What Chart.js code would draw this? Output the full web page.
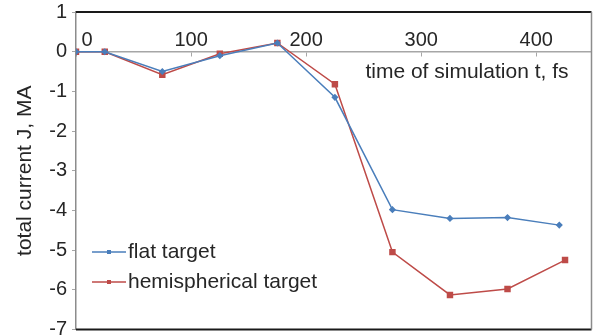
<!DOCTYPE html>
<html>
<head>
<meta charset="utf-8">
<script src="https://cdn.jsdelivr.net/npm/chart.js@4"></script>
<style>
  html, body { margin: 0; padding: 0; background: #fff; }
  #wrap { width: 597px; height: 335px; }
</style>
</head>
<body>
<div id="wrap"><canvas id="chart"></canvas></div>
<script>
// values (time in fs, current in MA)
const timeFlat = [0, 25, 75, 125, 175, 225, 275, 325, 375, 420];
const currentFlat = [0, 0, -0.5, -0.1, 0.22, -1.15, -3.98, -4.2, -4.18, -4.37];
const timeHemi = [0, 25, 75, 125, 175, 225, 275, 325, 375, 425];
const currentHemi = [0, 0, -0.58, -0.05, 0.22, -0.82, -5.05, -6.13, -5.98, -5.25];
const seriesNames = ["flat target", "hemispherical target"];
const xTicks = [0, 100, 200, 300, 400];
const yTicks = [-7, -6, -5, -4, -3, -2, -1, 0, 1];

const BLUE = "#4a7ebb";
const RED = "#be4b48";
const TEXT = "#262626";
const FONT = "'Liberation Sans', Arial, sans-serif";

const toPoints = (xs, ys) => xs.map((x, i) => ({ x, y: ys[i] }));

// plot frame, in-plot legend and x axis title
const extrasPlugin = {
  id: "extras",
  afterDraw(chart) {
    const { ctx, chartArea: a } = chart;
    const yZero = chart.scales.y.getPixelForValue(0);
    ctx.save();
    ctx.strokeStyle = "#1a1a1a";
    ctx.lineWidth = 2;
    ctx.beginPath();
    ctx.moveTo(a.left, a.top);
    ctx.lineTo(a.right, a.top);
    ctx.moveTo(a.left, a.bottom);
    ctx.lineTo(a.right, a.bottom);
    ctx.stroke();
    ctx.strokeStyle = "#8c8c8c";
    ctx.lineWidth = 1.5;
    ctx.beginPath();
    ctx.moveTo(a.right, a.top);
    ctx.lineTo(a.right, a.bottom);
    ctx.stroke();

    ctx.fillStyle = TEXT;
    ctx.font = "21px " + FONT;
    ctx.textAlign = "right";
    ctx.textBaseline = "middle";
    ctx.fillText("time of simulation t, fs", a.right - 23, yZero + 21);

    // legend
    ctx.textAlign = "left";
    chart.data.datasets.forEach((ds, i) => {
      const y = a.top + 240 + i * 30;
      const x0 = a.left + 16;
      const x1 = a.left + 50;
      ctx.strokeStyle = ds.borderColor;
      ctx.lineWidth = 1.5;
      ctx.beginPath();
      ctx.moveTo(x0, y);
      ctx.lineTo(x1, y);
      ctx.stroke();
      ctx.fillStyle = ds.borderColor;
      ctx.fillRect((x0 + x1) / 2 - 2, y - 2, 4, 4);
      ctx.fillStyle = TEXT;
      ctx.fillText(ds.label, x1 + 2, y);
    });
    ctx.restore();
  },
};

new Chart(document.getElementById("chart"), {
  type: "line",
  data: {
    datasets: [
      {
        label: seriesNames[0],
        data: toPoints(timeFlat, currentFlat),
        borderColor: BLUE,
        backgroundColor: BLUE,
        borderWidth: 1.5,
        pointStyle: "rectRot",
        pointRadius: 2.5,
      },
      {
        label: seriesNames[1],
        data: toPoints(timeHemi, currentHemi),
        borderColor: RED,
        backgroundColor: RED,
        borderWidth: 1.5,
        pointStyle: "rect",
        pointRadius: 3.5,
      },
    ],
  },
  options: {
    responsive: true,
    maintainAspectRatio: false,
    animation: false,
    layout: { padding: { left: 0, top: 12, right: 2, bottom: 5 } },
    plugins: {
      legend: { display: false },
      tooltip: { enabled: false },
    },
    elements: { line: { tension: 0 } },
    scales: {
      x: {
        type: "linear",
        position: { y: 0 },
        min: 0,
        max: 448,
        afterBuildTicks: (s) => {
          s.ticks = xTicks.map((v) => ({ value: v })).concat({ value: s.max });
        },
        grid: {
          drawOnChartArea: false,
          drawTicks: true,
          tickLength: 4,
          color: "#a6a6a6",
        },
        border: { color: "#a6a6a6", width: 1.5 },
        ticks: {
          align: "inner",
          padding: -27,
          maxRotation: 0,
          color: TEXT,
          font: { family: FONT, size: 20 },
          callback: (v) => (xTicks.includes(v) ? (v === 0 ? " 0" : String(v)) : ""),
        },
      },
      y: {
        min: -7,
        max: 1,
        afterBuildTicks: (s) => {
          s.ticks = yTicks.map((v) => ({ value: v }));
        },
        afterFit: (s) => {
          s.width = 76;
          s.paddingTop = 0;
          s.paddingBottom = 0;
        },
        grid: {
          drawOnChartArea: false,
          drawTicks: true,
          tickLength: 4,
          color: "#a6a6a6",
        },
        border: { color: "#8c8c8c", width: 1.5 },
        ticks: {
          padding: 5,
          color: TEXT,
          font: { family: FONT, size: 20 },
        },
        title: {
          display: true,
          text: "total current J, MA",
          color: TEXT,
          font: { family: FONT, size: 21 },
          padding: { top: 13, bottom: 0 },
        },
      },
    },
  },
  plugins: [extrasPlugin],
});
</script>
</body>
</html>
